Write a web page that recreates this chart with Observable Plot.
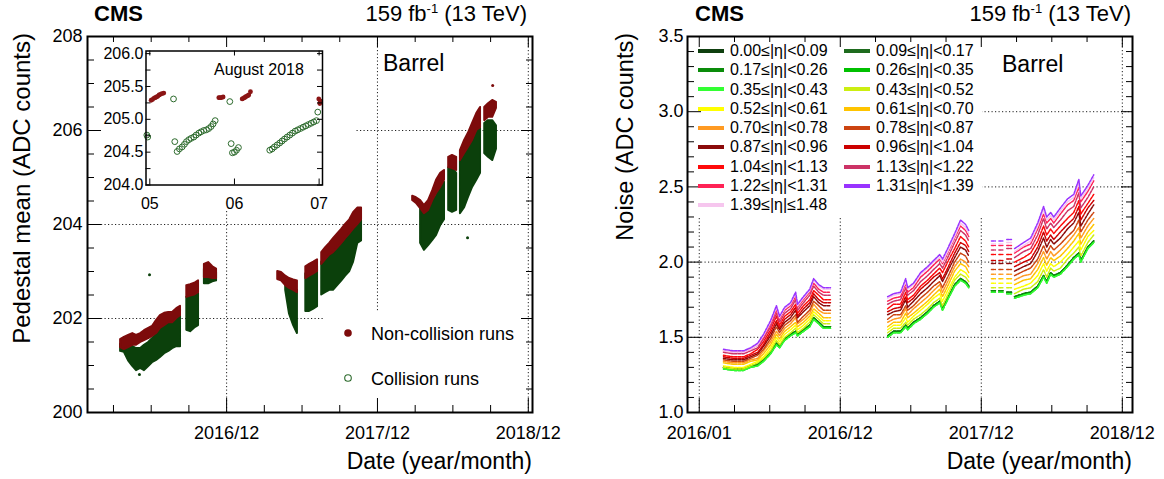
<!DOCTYPE html>
<html><head><meta charset="utf-8">
<script src="https://cdn.jsdelivr.net/npm/d3@7"></script>
<script src="https://cdn.jsdelivr.net/npm/@observablehq/plot@0.6"></script>
<style>
html,body{margin:0;padding:0;background:#fff;}
#root{position:relative;width:1164px;height:479px;overflow:hidden;background:#fff;}
</style></head>
<body><div id="root"></div>
<script>
// ================= DATA =================
// shared time axis (ticks every 90 days, labels every 360 days)
const tickMajorDates  = ["2016-01-05","2016-12-30","2017-12-25","2018-12-20"];
const tickMajorLabels = ["2016/01","2016/12","2017/12","2018/12"];
const tickMinorDates  = ["2016-04-04","2016-07-03","2016-10-01","2017-03-30","2017-06-28","2017-09-26","2018-03-25","2018-06-23","2018-09-21"];

// ---- left panel: pedestal mean (ADC counts) ----
const pedYMajor = [200,202,204,206,208];
const pedYMinor = [200.5,201,201.5,202.5,203,203.5,204.5,205,205.5,206.5,207,207.5];
const pedYGrid  = [202,204,206];
const pedDates = [
 "2016-04-21","2016-04-30","2016-05-10","2016-05-20","2016-05-29","2016-06-08","2016-06-17","2016-06-27","2016-07-06","2016-07-16","2016-07-25","2016-08-04","2016-08-14","2016-08-23","2016-09-02","2016-09-11","2016-09-26","2016-10-05","2016-10-15","2016-10-24","2016-11-07","2016-11-17","2016-11-27","2016-12-06",
 "2017-05-01","2017-05-10","2017-05-20","2017-05-29","2017-06-08","2017-06-17","2017-07-07","2017-07-16","2017-07-26","2017-08-04","2017-08-14","2017-08-23","2017-09-02","2017-09-11","2017-09-21","2017-10-01","2017-10-10","2017-10-20","2017-10-29","2017-11-08","2017-11-17",
 "2018-03-19","2018-03-28","2018-04-07","2018-04-16","2018-04-26","2018-05-06","2018-05-15","2018-05-25","2018-06-03","2018-06-13","2018-06-22","2018-07-02","2018-07-11","2018-07-21","2018-07-30","2018-08-09","2018-08-19","2018-08-28","2018-09-07","2018-09-16","2018-09-26","2018-10-05"];
// data-taking block each row belongs to
const pedBlock = [
 1,1,1,1,1,1,1,1,1,1,1,1,1,1,1,1,2,2,2,2,3,3,3,3,
 4,4,4,4,4,4,5,5,5,5,6,6,6,6,6,6,6,6,6,6,6,
 7,7,7,7,7,7,7,7,7,8,8,8,9,9,9,9,9,9,10,10,10,10];
// collision runs (green): low / high edge of the point cloud
const pedCollLow = [
 201.30,201.28,201.10,200.98,200.89,200.94,200.89,200.98,201.06,201.11,201.17,201.25,201.30,201.36,201.40,201.40,201.75,201.72,201.80,201.85,202.74,202.74,202.78,202.80,
 null,null,202.60,202.10,201.85,201.68,202.15,202.15,202.20,202.25,202.50,202.55,202.60,202.60,202.70,202.80,202.90,203.00,203.20,203.60,203.65,
 null,null,203.60,203.45,203.55,203.66,203.77,203.98,204.10,204.30,204.26,204.30,204.23,204.36,204.57,204.79,204.94,205.09,205.51,205.43,205.36,205.60];
const pedCollHigh = [
 201.45,201.50,201.50,201.40,201.36,201.36,201.43,201.49,201.57,201.66,201.79,201.85,201.96,202.00,202.00,202.06,202.45,202.50,202.52,202.53,203.05,203.05,203.00,202.98,
 null,null,202.75,202.70,202.65,202.60,202.95,203.00,203.05,203.10,203.20,203.30,203.35,203.40,203.50,203.60,203.70,203.80,203.90,204.05,204.10,
 null,null,204.45,204.30,204.40,204.50,204.60,204.80,204.90,205.21,205.21,205.09,205.36,205.50,205.64,205.79,205.94,206.06,206.15,206.21,206.21,206.10];
// non-collision runs (red)
const pedNonCollLow = [
 201.38,201.34,201.38,201.43,201.43,201.49,201.53,201.57,201.62,201.68,201.79,201.85,201.91,201.91,202.00,202.06,202.45,202.48,202.50,202.55,202.87,202.87,202.85,202.85,
 202.83,202.80,202.70,202.64,202.60,202.55,202.85,202.90,202.95,203.00,203.15,203.25,203.35,203.40,203.50,203.60,203.70,203.80,203.90,204.00,204.10,
 204.51,204.45,204.34,204.23,204.30,204.51,204.66,204.79,204.94,205.21,205.19,205.15,205.36,205.51,205.64,205.79,206.00,206.06,206.21,206.28,206.28,206.47];
const pedNonCollHigh = [
 201.55,201.60,201.64,201.68,201.64,201.68,201.74,201.79,201.83,201.96,202.06,202.11,202.13,202.13,202.21,202.26,202.70,202.72,202.75,202.80,203.15,203.19,203.10,203.05,
 203.00,202.98,202.90,202.85,202.82,202.80,203.10,203.15,203.20,203.25,203.40,203.50,203.60,203.70,203.80,203.90,204.00,204.10,204.25,204.35,204.35,
 204.60,204.57,204.51,204.40,204.51,204.72,204.94,205.09,205.15,205.43,205.47,205.43,205.57,205.79,205.94,206.15,206.36,206.49,206.49,206.57,206.64,206.60];
const pedCollOutDates  = ["2016-06-29","2016-06-05","2018-07-28"];
const pedCollOutValues = [202.93,200.81,203.72];
const pedNonCollOutDates  = ["2018-09-26"];
const pedNonCollOutValues = [206.96];

// ---- inset: August 2018 (day of month) ----
const insetXTicks = [5,6,7];
const insetYMajor = [204,204.5,205,205.5,206];
const insetYMinor = [204.25,204.75,205.25,205.75];
const insetCollDay = [4.965,4.975,5.280,5.295,5.323,5.350,5.382,5.409,5.433,5.461,5.488,5.520,5.547,5.579,5.606,5.638,5.669,5.697,5.724,5.748,5.772,5.945,5.961,5.976,6.000,6.024,6.047,6.417,6.445,6.472,6.504,6.535,6.563,6.591,6.622,6.654,6.685,6.717,6.748,6.780,6.811,6.843,6.874,6.906,6.937,6.969,6.984];
const insetCollValue = [204.76,204.73,205.31,204.66,204.51,204.55,204.58,204.62,204.66,204.69,204.71,204.73,204.76,204.79,204.81,204.83,204.84,204.86,204.89,204.93,204.98,205.27,204.63,204.49,204.50,204.53,204.57,204.53,204.55,204.58,204.61,204.64,204.67,204.70,204.73,204.76,204.79,204.82,204.84,204.86,204.88,204.90,204.92,204.94,204.96,204.98,205.11];
const insetNonCollDay = [5.016,5.031,5.047,5.063,5.079,5.094,5.110,5.126,5.142,5.165,5.815,5.830,5.843,5.866,6.091,6.105,6.118,6.130,6.142,6.157,6.169,6.189,6.996,7.008,7.012];
const insetNonCollValue = [205.29,205.30,205.32,205.33,205.34,205.35,205.37,205.38,205.39,205.40,205.33,205.33,205.33,205.34,205.31,205.32,205.33,205.34,205.35,205.36,205.37,205.42,205.31,205.24,205.28];

// ---- right panel: noise (ADC counts) per |eta| ring ----
const noiseYMajor = [1.0,1.5,2.0,2.5,3.0,3.5];
const noiseYMinor = [1.1,1.2,1.3,1.4,1.6,1.7,1.8,1.9,2.1,2.2,2.3,2.4,2.6,2.7,2.8,2.9,3.1,3.2,3.3,3.4];
const noiseYGrid  = [1.5,2.0,2.5,3.0];
const etaBins = ["0.00≤|η|<0.09","0.09≤|η|<0.17","0.17≤|η|<0.26","0.26≤|η|<0.35","0.35≤|η|<0.43","0.43≤|η|<0.52","0.52≤|η|<0.61","0.61≤|η|<0.70","0.70≤|η|<0.78","0.78≤|η|<0.87","0.87≤|η|<0.96","0.96≤|η|<1.04","1.04≤|η|<1.13","1.13≤|η|<1.22","1.22≤|η|<1.31","1.31≤|η|<1.39","1.39≤|η|≤1.48"];
const etaColors = ["#0f3f0f","#1e6b1e","#0a8c0a","#00c000","#33ff33","#ccee11","#ffff00","#ffc400","#ff9a22","#cc4411","#8b0a0a","#cc0000","#ff0a0a","#cc3366","#ff2255","#9933ff","#f6c6ee"];
const noiseDates = [
 "2016-03-07","2016-04-02","2016-04-27","2016-05-15","2016-06-02","2016-06-17","2016-07-05","2016-07-20","2016-07-28","2016-08-10","2016-08-25","2016-09-07","2016-09-12","2016-09-27","2016-10-13","2016-10-23","2016-11-05","2016-11-17","2016-12-05",
 "2017-04-30","2017-05-15","2017-06-02","2017-06-15","2017-06-20","2017-07-05","2017-07-23","2017-08-10","2017-08-25","2017-09-10","2017-09-17","2017-10-02","2017-10-18","2017-11-02","2017-11-15","2017-11-23",
 "2018-01-20","2018-01-30","2018-02-08","2018-02-18","2018-02-28","2018-03-12","2018-03-20","2018-04-12","2018-04-30","2018-05-18","2018-06-02","2018-06-10","2018-06-20","2018-06-28","2018-07-15","2018-08-02","2018-08-18","2018-08-31","2018-09-05","2018-09-23","2018-10-08"];
const noiseSegment = [
 1,1,1,1,1,1,1,1,1,1,1,1,1,1,1,1,1,1,1,
 2,2,2,2,2,2,2,2,2,2,2,2,2,2,2,2,
 3,3,4,4,5,5,6,6,6,6,6,6,6,6,6,6,6,6,6,6,6];
const noiseEta000 = [1.30,1.29,1.29,1.31,1.32,1.35,1.40,1.46,1.44,1.49,1.52,1.54,1.52,1.55,1.58,1.63,1.60,1.57,1.57, 1.51,1.54,1.54,1.58,1.56,1.60,1.63,1.67,1.71,1.74,1.69,1.77,1.85,1.89,1.87,1.84, 1.81,1.81,1.81,1.81,1.80,1.80,1.77,1.79,1.80,1.84,1.91,1.87,1.93,1.91,1.93,1.98,2.03,2.06,2.01,2.10,2.14];
const noiseEta009 = [1.30,1.29,1.29,1.31,1.32,1.35,1.40,1.46,1.44,1.49,1.52,1.54,1.52,1.55,1.58,1.63,1.60,1.57,1.57, 1.51,1.54,1.54,1.58,1.56,1.60,1.63,1.67,1.71,1.74,1.69,1.77,1.85,1.89,1.87,1.84, 1.81,1.81,1.81,1.81,1.80,1.80,1.77,1.79,1.80,1.84,1.91,1.87,1.93,1.91,1.93,1.98,2.03,2.06,2.01,2.10,2.14];
const noiseEta017 = [1.30,1.29,1.29,1.31,1.32,1.35,1.40,1.46,1.44,1.49,1.52,1.54,1.52,1.55,1.58,1.63,1.60,1.57,1.57, 1.51,1.54,1.54,1.58,1.56,1.60,1.63,1.67,1.71,1.74,1.69,1.77,1.85,1.89,1.87,1.84, 1.81,1.81,1.81,1.81,1.80,1.80,1.77,1.79,1.80,1.84,1.91,1.87,1.93,1.91,1.93,1.98,2.03,2.06,2.01,2.10,2.14];
const noiseEta026 = [1.29,1.28,1.28,1.30,1.31,1.34,1.39,1.45,1.43,1.48,1.51,1.53,1.51,1.54,1.57,1.62,1.59,1.56,1.56, 1.50,1.53,1.53,1.57,1.55,1.59,1.62,1.66,1.70,1.73,1.68,1.76,1.84,1.88,1.86,1.83, 1.80,1.80,1.80,1.80,1.79,1.79,1.76,1.78,1.79,1.83,1.90,1.86,1.92,1.90,1.92,1.97,2.02,2.05,2.00,2.09,2.13];
const noiseEta035 = [1.29,1.28,1.28,1.30,1.31,1.34,1.39,1.45,1.43,1.48,1.51,1.53,1.51,1.54,1.57,1.62,1.59,1.56,1.56, 1.50,1.53,1.53,1.57,1.55,1.59,1.62,1.66,1.70,1.73,1.68,1.76,1.84,1.88,1.86,1.83, 1.80,1.80,1.80,1.80,1.79,1.79,1.76,1.78,1.79,1.83,1.90,1.86,1.92,1.90,1.92,1.97,2.02,2.05,2.00,2.09,2.13];
const noiseEta043 = [1.30,1.29,1.29,1.31,1.33,1.36,1.41,1.48,1.45,1.50,1.53,1.56,1.53,1.56,1.60,1.65,1.62,1.59,1.59, 1.53,1.56,1.56,1.60,1.58,1.62,1.65,1.69,1.73,1.76,1.71,1.79,1.88,1.92,1.90,1.87, 1.83,1.83,1.83,1.83,1.83,1.83,1.79,1.82,1.83,1.87,1.95,1.90,1.96,1.94,1.96,2.02,2.06,2.10,2.04,2.13,2.18];
const noiseEta052 = [1.31,1.30,1.30,1.32,1.34,1.37,1.43,1.50,1.47,1.52,1.55,1.58,1.55,1.58,1.62,1.67,1.64,1.61,1.61, 1.55,1.58,1.58,1.63,1.60,1.64,1.68,1.72,1.76,1.79,1.74,1.82,1.90,1.95,1.93,1.90, 1.86,1.86,1.86,1.86,1.86,1.86,1.82,1.84,1.86,1.91,1.99,1.94,1.99,1.97,2.00,2.05,2.10,2.14,2.08,2.17,2.21];
const noiseEta061 = [1.33,1.32,1.32,1.34,1.35,1.39,1.45,1.52,1.49,1.54,1.57,1.60,1.57,1.60,1.64,1.69,1.66,1.63,1.63, 1.57,1.60,1.60,1.66,1.63,1.66,1.70,1.74,1.78,1.82,1.77,1.85,1.94,1.99,1.97,1.93, 1.89,1.89,1.89,1.89,1.89,1.89,1.85,1.88,1.89,1.95,2.03,1.98,2.03,2.01,2.04,2.09,2.14,2.19,2.12,2.20,2.25];
const noiseEta070 = [1.34,1.33,1.33,1.35,1.36,1.41,1.47,1.54,1.51,1.56,1.59,1.63,1.59,1.62,1.66,1.72,1.68,1.66,1.66, 1.60,1.62,1.63,1.69,1.65,1.69,1.73,1.77,1.81,1.85,1.80,1.88,1.97,2.02,2.00,1.97, 1.92,1.92,1.92,1.92,1.92,1.92,1.88,1.91,1.92,1.99,2.07,2.02,2.07,2.04,2.08,2.13,2.18,2.23,2.16,2.24,2.29];
const noiseEta078 = [1.35,1.34,1.34,1.36,1.38,1.42,1.49,1.57,1.53,1.58,1.61,1.65,1.60,1.64,1.68,1.74,1.71,1.68,1.68, 1.62,1.65,1.65,1.71,1.68,1.71,1.76,1.80,1.84,1.87,1.83,1.91,2.00,2.06,2.04,2.00, 1.95,1.95,1.95,1.95,1.95,1.95,1.91,1.94,1.96,2.02,2.11,2.06,2.11,2.08,2.12,2.17,2.21,2.28,2.20,2.28,2.33];
const noiseEta087 = [1.36,1.35,1.35,1.37,1.39,1.44,1.51,1.59,1.55,1.60,1.63,1.68,1.63,1.67,1.71,1.77,1.73,1.71,1.71, 1.65,1.67,1.68,1.75,1.70,1.74,1.79,1.83,1.87,1.91,1.87,1.95,2.03,2.10,2.08,2.04, 1.99,1.99,1.99,1.99,1.99,1.99,1.94,1.97,1.99,2.07,2.16,2.10,2.15,2.12,2.16,2.22,2.26,2.33,2.24,2.32,2.38];
const noiseEta096 = [1.37,1.36,1.36,1.38,1.40,1.45,1.53,1.61,1.56,1.62,1.65,1.70,1.64,1.69,1.73,1.79,1.75,1.73,1.73, 1.67,1.69,1.70,1.77,1.73,1.76,1.82,1.86,1.90,1.93,1.89,1.97,2.06,2.13,2.11,2.07, 2.01,2.01,2.01,2.01,2.02,2.02,1.97,2.00,2.02,2.10,2.20,2.14,2.18,2.15,2.20,2.25,2.29,2.37,2.28,2.36,2.41];
const noiseEta104 = [1.38,1.37,1.37,1.39,1.42,1.47,1.55,1.64,1.58,1.64,1.67,1.72,1.66,1.71,1.75,1.81,1.78,1.75,1.75, 1.69,1.72,1.72,1.80,1.75,1.78,1.84,1.88,1.92,1.96,1.93,2.01,2.09,2.17,2.14,2.10, 2.05,2.05,2.05,2.05,2.05,2.05,2.00,2.03,2.06,2.14,2.24,2.18,2.22,2.19,2.24,2.29,2.33,2.41,2.32,2.39,2.45];
const noiseEta113 = [1.40,1.39,1.39,1.41,1.43,1.49,1.57,1.66,1.60,1.66,1.69,1.75,1.68,1.73,1.78,1.84,1.80,1.78,1.78, 1.72,1.74,1.75,1.83,1.78,1.81,1.87,1.91,1.95,1.99,1.96,2.04,2.13,2.21,2.18,2.14, 2.08,2.08,2.08,2.08,2.09,2.09,2.03,2.07,2.09,2.18,2.29,2.22,2.26,2.23,2.28,2.34,2.37,2.46,2.36,2.43,2.50];
const noiseEta122 = [1.41,1.40,1.40,1.42,1.45,1.50,1.59,1.68,1.62,1.68,1.71,1.77,1.70,1.75,1.80,1.86,1.82,1.80,1.80, 1.74,1.76,1.77,1.86,1.80,1.83,1.90,1.94,1.98,2.02,1.99,2.07,2.16,2.24,2.21,2.17, 2.11,2.11,2.11,2.11,2.11,2.11,2.06,2.10,2.12,2.22,2.32,2.26,2.29,2.26,2.32,2.38,2.41,2.50,2.40,2.47,2.54];
const noiseEta131 = [1.42,1.41,1.41,1.43,1.46,1.52,1.61,1.71,1.64,1.70,1.73,1.80,1.72,1.77,1.82,1.89,1.85,1.83,1.83, 1.77,1.79,1.80,1.89,1.83,1.86,1.93,1.97,2.01,2.05,2.02,2.10,2.19,2.28,2.25,2.21, 2.14,2.14,2.14,2.14,2.15,2.15,2.09,2.13,2.16,2.26,2.37,2.30,2.33,2.30,2.36,2.42,2.45,2.55,2.44,2.51,2.58];
const noiseEta139 = [1.41,1.40,1.40,1.42,1.45,1.51,1.60,1.70,1.63,1.69,1.72,1.79,1.71,1.76,1.81,1.88,1.84,1.82,1.82, 1.76,1.78,1.79,1.87,1.82,1.85,1.92,1.96,2.00,2.03,2.00,2.08,2.17,2.26,2.23,2.19, 2.12,2.12,2.12,2.12,2.13,2.13,2.07,2.11,2.14,2.24,2.35,2.28,2.31,2.28,2.34,2.40,2.43,2.53,2.42,2.49,2.56];

// ================= RENDERING =================
const FONT = '"Liberation Sans", Arial, Helvetica, sans-serif';
const root = document.getElementById("root");
const P = s => new Date(s + "T00:00:00Z");
const W = 582, H = 479, MT = 36, MB = 67, FW = 445, FH = 376;
const GRID = {stroke: "#222", strokeWidth: 1, strokeDasharray: "1.2,2.3"};
const labelOf = new Map(tickMajorDates.map((d, i) => [+P(d), tickMajorLabels[i]]));

function place(node, left, top) {
  node.style.position = "absolute"; node.style.left = left + "px"; node.style.top = top + "px";
  root.appendChild(node); return node;
}
function addText(html, css) {
  const d = document.createElement("div");
  d.innerHTML = html;
  Object.assign(d.style, {position: "absolute", whiteSpace: "nowrap", lineHeight: "1", fontFamily: FONT, color: "#000"}, css);
  root.appendChild(d); return d;
}
function whiteBox(l, t, w, h) {
  const d = document.createElement("div");
  Object.assign(d.style, {position: "absolute", left: l + "px", top: t + "px", width: w + "px", height: h + "px", background: "#fff"});
  root.appendChild(d);
}
function frameMarks(xMajor, xMinor, yMajor, yMinor, yFmt, yPad) {
  const k = {stroke: "#000", strokeWidth: 1};
  return [
    Plot.ruleX(xMinor, {...k, insetTop: FH - 7}), Plot.ruleX(xMajor, {...k, insetTop: FH - 14}),
    Plot.ruleX(xMinor, {...k, insetBottom: FH - 6}), Plot.ruleX(xMajor, {...k, insetBottom: FH - 11}),
    Plot.ruleY(yMinor, {...k, insetRight: FW - 7}), Plot.ruleY(yMajor, {...k, insetRight: FW - 14}),
    Plot.ruleY(yMinor, {...k, insetLeft: FW - 6}), Plot.ruleY(yMajor, {...k, insetLeft: FW - 11}),
    Plot.frame({stroke: "#000", strokeWidth: 2}),
    Plot.axisX(xMajor, {tickSize: 0, tickPadding: 14, tickFormat: d => labelOf.get(+d), fontSize: 18, label: null}),
    Plot.axisY(yMajor, {tickSize: 0, tickPadding: yPad, tickFormat: yFmt, fontSize: 18, label: null})
  ];
}
const baseStyle = {background: "transparent", fontFamily: FONT, fontSize: "18px", color: "#000", overflow: "visible"};
const SUP = "<sup style='font-size:13px;vertical-align:8px;line-height:0'>-1</sup>";

// ---------- LEFT PANEL ----------
const xDomL = [P("2016-02-02"), P("2018-12-30")];
const inL = d => d >= xDomL[0] && d <= xDomL[1];
const majL = tickMajorDates.map(P).filter(inL), minL = tickMinorDates.map(P).filter(inL);
const optsL = {width: W, height: H, marginLeft: 87, marginRight: 50, marginTop: MT, marginBottom: MB,
  x: {type: "utc", domain: xDomL}, y: {domain: [200, 208]}};

place(Plot.plot({...optsL, x: {...optsL.x, axis: null}, y: {...optsL.y, axis: null}, style: baseStyle,
  marks: [Plot.ruleX(majL, GRID), Plot.ruleY(pedYGrid, GRID)]}), 0, 0);
whiteBox(89, 37, 266, 173);   // inset pad
whiteBox(325, 311, 195, 100); // legend box

const ped = pedDates.map((d, i) => ({date: P(d), block: pedBlock[i], gLo: pedCollLow[i], gHi: pedCollHigh[i], rLo: pedNonCollLow[i], rHi: pedNonCollHigh[i]}));
const pedG = ped.filter(d => d.gLo != null), pedR = ped.filter(d => d.rLo != null);
const GREEN = "#0b400b", RED = "#7d0b0b";
place(Plot.plot({...optsL, style: baseStyle, marks: [
  Plot.areaY(pedG, {x: "date", y1: "gLo", y2: "gHi", z: "block", fill: GREEN, stroke: GREEN, strokeWidth: 2}),
  Plot.areaY(pedR, {x: "date", y1: "rLo", y2: "rHi", z: "block", fill: RED, stroke: RED, strokeWidth: 2}),
  Plot.dot(pedCollOutDates.map((d, i) => ({date: P(d), v: pedCollOutValues[i]})), {x: "date", y: "v", r: 1.5, fill: GREEN}),
  Plot.dot(pedNonCollOutDates.map((d, i) => ({date: P(d), v: pedNonCollOutValues[i]})), {x: "date", y: "v", r: 1.5, fill: RED}),
  ...frameMarks(majL, minL, pedYMajor, pedYMinor, d => String(d), 5)
]}), 0, 0);

// inset
const IW = 230, IH = 180, IML = 45.5, IMR = 8, IMT = 10.5, IMB = 35.5;
const IFW = IW - IML - IMR, IFH = IH - IMT - IMB;
const ik = {stroke: "#000", strokeWidth: 1};
place(Plot.plot({width: IW, height: IH, marginLeft: IML, marginRight: IMR, marginTop: IMT, marginBottom: IMB,
  x: {domain: [4.955, 7.04]}, y: {domain: [204, 206.04]},
  style: {...baseStyle, fontSize: "16px"},
  marks: [
    Plot.dot(insetCollDay.map((d, i) => ({d, v: insetCollValue[i]})), {x: "d", y: "v", r: 2.9, stroke: "#2c6a2c", strokeWidth: 1, fill: "none"}),
    Plot.dot(insetNonCollDay.map((d, i) => ({d, v: insetNonCollValue[i]})), {x: "d", y: "v", r: 2.4, fill: "#8b1515"}),
    Plot.ruleY(insetYMajor.concat(insetYMinor), {...ik, insetLeft: IFW - 5}),
    Plot.ruleY(insetYMajor.concat(insetYMinor), {...ik, insetRight: IFW - 5}),
    Plot.ruleX(insetXTicks, {...ik, insetTop: IFH - 6}),
    Plot.ruleX(insetXTicks, {...ik, insetBottom: IFH - 5}),
    Plot.frame({stroke: "#000", strokeWidth: 1.5}),
    Plot.axisX(insetXTicks, {tickSize: 0, tickPadding: 13, tickFormat: d => String(d).padStart(2, "0"), fontSize: 16, label: null}),
    Plot.axisY(insetYMajor, {tickSize: 0, tickPadding: 2.5, tickFormat: d3.format(".1f"), fontSize: 16, label: null})
  ]}), 100, 40);

// left texts
addText("<b>CMS</b>", {left: "94px", top: "2.5px", fontSize: "22px"});
addText("159 fb" + SUP + " (13 TeV)", {left: "0px", width: "527px", textAlign: "right", top: "3px", fontSize: "22px"});
addText("Pedestal mean (ADC counts)", {left: "10px", top: "373px", width: "340px", textAlign: "right", fontSize: "24px", transformOrigin: "0 0", transform: "rotate(-90deg)"});
addText("Date (year/month)", {left: "0px", width: "532px", textAlign: "right", top: "449.5px", fontSize: "23px"});
addText("Barrel", {left: "383px", top: "51.5px", fontSize: "23px"});
addText("August 2018", {left: "214px", top: "61.5px", fontSize: "16px"});
// left legend
const lg = document.createElementNS("http://www.w3.org/2000/svg", "svg");
lg.setAttribute("width", "20"); lg.setAttribute("height", "60");
lg.innerHTML = `<circle cx="10" cy="10" r="3.8" fill="${RED}"/><circle cx="10" cy="55" r="3.3" fill="none" stroke="#2c6a2c" stroke-width="1.1"/>`;
place(lg, 338, 323);
addText("Non-collision runs", {left: "371px", top: "324.5px", fontSize: "18px"});
addText("Collision runs", {left: "371px", top: "369.5px", fontSize: "18px"});

// ---------- RIGHT PANEL ----------
const xDomR = [P("2015-12-06"), P("2019-01-15")];
const inR = d => d >= xDomR[0] && d <= xDomR[1];
const majR = tickMajorDates.map(P).filter(inR), minR = tickMinorDates.map(P).filter(inR);
const optsR = {width: W, height: H, marginLeft: 105, marginRight: 32, marginTop: MT, marginBottom: MB,
  x: {type: "utc", domain: xDomR}, y: {domain: [1.0, 3.5]}};
place(Plot.plot({...optsR, x: {...optsR.x, axis: null}, y: {...optsR.y, axis: null}, style: baseStyle,
  marks: [Plot.ruleX(majR, GRID), Plot.ruleY(noiseYGrid, GRID)]}), 582, 0);
whiteBox(689, 37, 293, 180); // legend box

const noiseSeries = [noiseEta000, noiseEta009, noiseEta017, noiseEta026, noiseEta035, noiseEta043, noiseEta052, noiseEta061, noiseEta070, noiseEta078, noiseEta087, noiseEta096, noiseEta104, noiseEta113, noiseEta122, noiseEta131, noiseEta139];
const drawOrder = [0, 1, 2, 3, 4, 5, 6, 7, 8, 9, 10, 11, 12, 13, 14, 16, 15];
const noiseRows = [];
for (const b of drawOrder) noiseDates.forEach((d, j) => {
  const v = noiseSeries[b][j];
  if (v != null) noiseRows.push({date: P(d), v, bin: etaBins[b], key: etaBins[b] + "|" + noiseSegment[j]});
});
place(Plot.plot({...optsR, color: {type: "ordinal", domain: etaBins, range: etaColors}, style: baseStyle, marks: [
  Plot.line(noiseRows, {x: "date", y: "v", z: "key", stroke: "bin", strokeWidth: 1.5, strokeDasharray: "2.5,1.2", curve: "linear"}),
  ...frameMarks(majR, minR, noiseYMajor, noiseYMinor, d3.format(".1f"), 4)
]}), 582, 0);

// right texts
addText("<b>CMS</b>", {left: "695px", top: "2.5px", fontSize: "22px"});
addText("159 fb" + SUP + " (13 TeV)", {left: "0px", width: "1131px", textAlign: "right", top: "3px", fontSize: "22px"});
addText("Noise (ADC counts)", {left: "613.5px", top: "373px", width: "340px", textAlign: "right", fontSize: "23.5px", transformOrigin: "0 0", transform: "rotate(-90deg)"});
addText("Date (year/month)", {left: "0px", width: "1132px", textAlign: "right", top: "449.5px", fontSize: "23px"});
addText("Barrel", {left: "1002px", top: "53px", fontSize: "23px"});
// right legend
etaBins.forEach((lab, i) => {
  const col = i % 2, row = Math.floor(i / 2);
  const cy = 50.7 + row * 19.3;
  const x0 = col === 0 ? 698 : 844;
  const sw = document.createElement("div");
  Object.assign(sw.style, {position: "absolute", left: x0 + "px", top: (cy - 2) + "px", width: "26px", height: "4px", background: etaColors[i]});
  root.appendChild(sw);
  addText(lab, {left: (x0 + 32) + "px", top: (cy - 7.8) + "px", fontSize: "16px"});
});
</script></body></html>
